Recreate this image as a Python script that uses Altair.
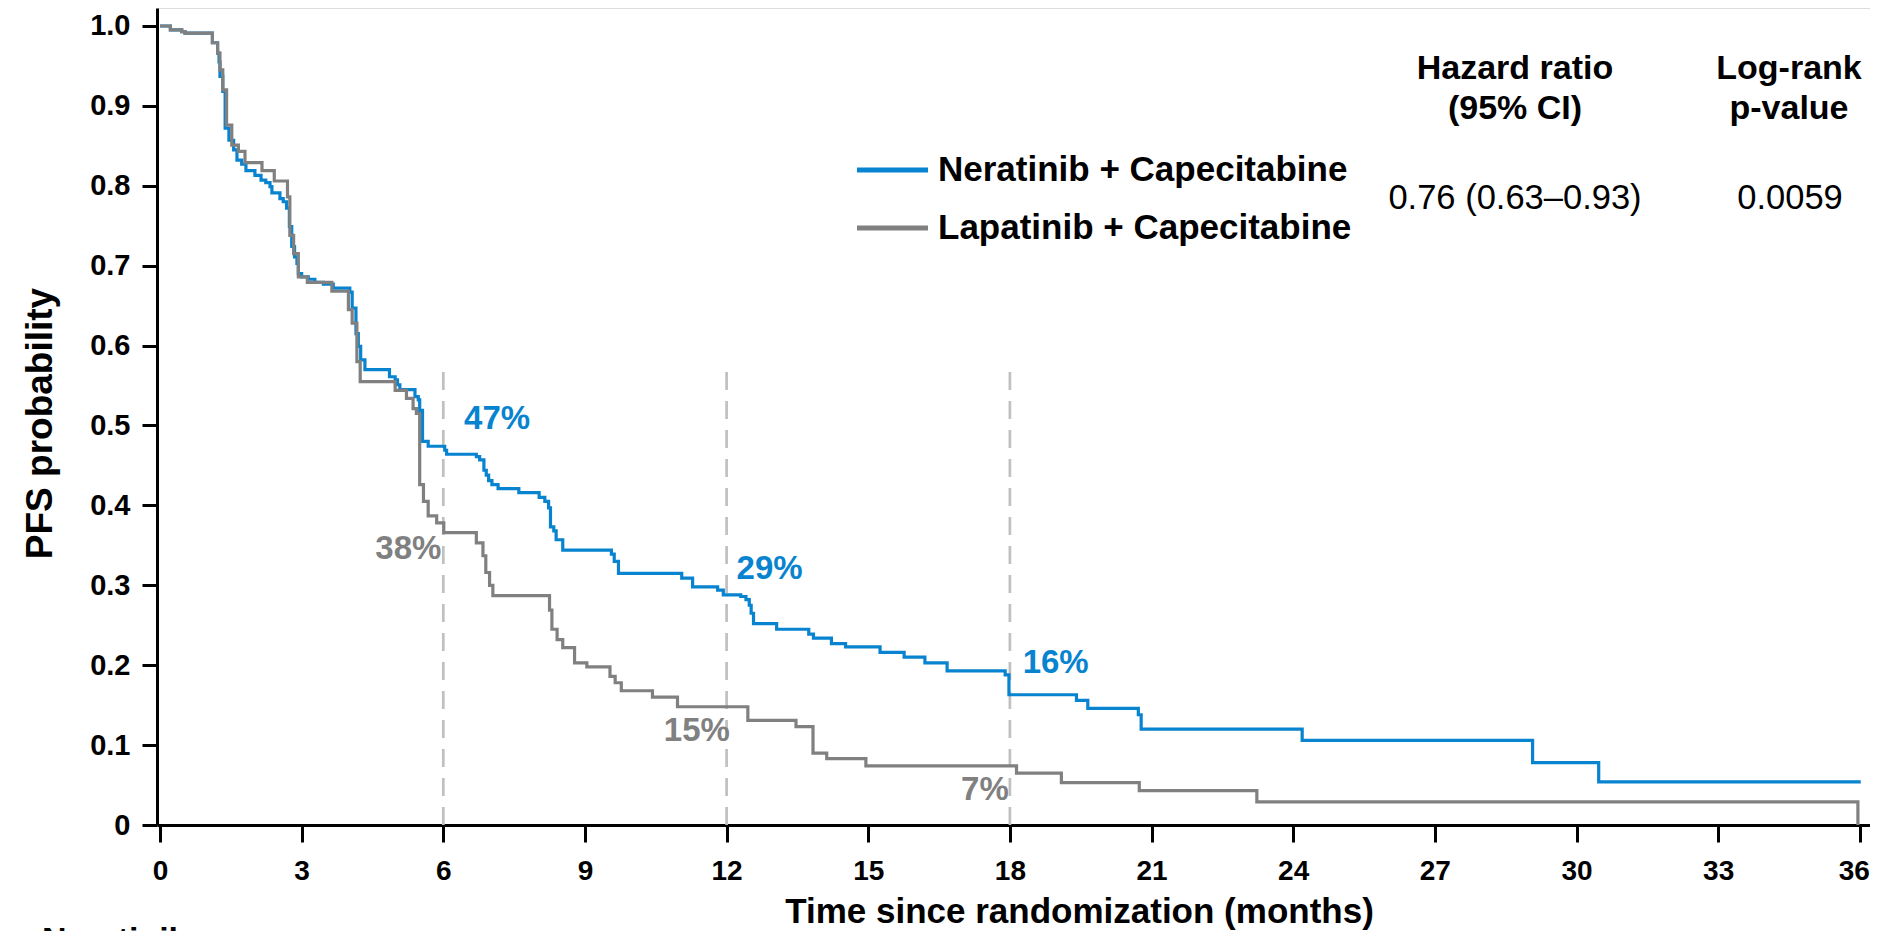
import altair as alt
import pandas as pd

# ---------------- data ----------------
series_names = ["Neratinib + Capecitabine", "Lapatinib + Capecitabine"]
series_colors = ["#0883CF", "#808080"]

nera_t = [0, 0.22, 0.46, 0.53, 1.11, 1.22, 1.25, 1.27, 1.33, 1.38, 1.46, 1.56, 1.63, 1.73, 1.82,
          2.01, 2.14, 2.24, 2.33, 2.37, 2.54, 2.61, 2.68, 2.74, 2.79, 2.85, 2.90, 2.93, 3.00, 3.14,
          3.28, 3.46, 3.67, 4.02, 4.07, 4.15, 4.20, 4.25, 4.34, 4.86, 4.98, 5.03, 5.08, 5.40, 5.47,
          5.50, 5.56, 5.68, 6.03, 6.07, 6.70, 6.77, 6.86, 6.91, 6.96, 7.03, 7.16, 7.60, 8.03, 8.15,
          8.23, 8.27, 8.34, 8.39, 8.53, 9.56, 9.62, 9.71, 11.05, 11.28, 11.81, 11.93, 12.30, 12.41,
          12.48, 12.52, 12.57, 13.06, 13.74, 13.84, 14.22, 14.52, 15.25, 15.76, 16.20, 16.67, 17.90,
          17.98, 19.41, 19.65, 20.72, 20.78, 24.19, 29.07, 30.47, 36.02]
nera_s = [1.0, 0.995, 0.993, 0.991, 0.979, 0.966, 0.955, 0.937, 0.918, 0.872, 0.857, 0.845, 0.832,
          0.827, 0.819, 0.813, 0.807, 0.804, 0.799, 0.791, 0.784, 0.780, 0.772, 0.749, 0.724, 0.711,
          0.703, 0.690, 0.686, 0.683, 0.679, 0.677, 0.672, 0.667, 0.647, 0.615, 0.599, 0.582, 0.570,
          0.561, 0.557, 0.551, 0.545, 0.536, 0.532, 0.519, 0.480, 0.474, 0.469, 0.464, 0.461, 0.457,
          0.444, 0.438, 0.431, 0.426, 0.421, 0.416, 0.410, 0.405, 0.397, 0.373, 0.368, 0.357, 0.344,
          0.339, 0.330, 0.315, 0.309, 0.298, 0.294, 0.288, 0.286, 0.282, 0.275, 0.265, 0.252, 0.245,
          0.239, 0.234, 0.227, 0.223, 0.216, 0.210, 0.203, 0.193, 0.188, 0.163, 0.156, 0.146, 0.138,
          0.120, 0.106, 0.078, 0.054, 0.054]

lapa_t = [0, 0.22, 0.46, 0.53, 1.11, 1.22, 1.27, 1.33, 1.41, 1.52, 1.66, 1.80, 2.16, 2.42, 2.70,
          2.75, 2.83, 2.93, 3.12, 3.64, 3.99, 4.07, 4.17, 4.24, 4.98, 5.22, 5.36, 5.43, 5.50, 5.58,
          5.68, 5.86, 6.01, 6.70, 6.84, 6.90, 6.98, 7.05, 8.25, 8.30, 8.41, 8.53, 8.78, 9.04, 9.53,
          9.64, 9.77, 10.43, 10.96, 12.45, 13.47, 13.83, 14.12, 14.95, 18.14, 19.09, 20.74, 23.23,
          35.96, 35.96]
lapa_s = [1.0, 0.995, 0.993, 0.991, 0.979, 0.966, 0.945, 0.920, 0.876, 0.851, 0.843, 0.829, 0.819,
          0.806, 0.786, 0.738, 0.715, 0.686, 0.679, 0.668, 0.645, 0.628, 0.580, 0.555, 0.544, 0.534,
          0.521, 0.515, 0.426, 0.405, 0.387, 0.378, 0.366, 0.353, 0.337, 0.316, 0.300, 0.287, 0.269,
          0.245, 0.232, 0.222, 0.203, 0.198, 0.186, 0.178, 0.168, 0.160, 0.148, 0.131, 0.123, 0.090,
          0.083, 0.074, 0.065, 0.053, 0.043, 0.029, 0.029, 0.0]

milestones = [6, 12, 18]
pct_labels = ["47%", "38%", "29%", "15%", "16%", "7%"]
pct_series = [0, 1, 0, 1, 0, 1]

x_ticks = list(range(0, 37, 3))
y_ticks = [0, 0.1, 0.2, 0.3, 0.4, 0.5, 0.6, 0.7, 0.8, 0.9, 1.0]

hr_header = ["Hazard ratio", "(95% CI)"]
p_header = ["Log-rank", "p-value"]
hr_value = "0.76 (0.63–0.93)"
p_value = "0.0059"
risk_label = "Neratinib"

# ---------------- layout / style ----------------
FONT = "Liberation Sans"
W, H = 1713, 817
X_DOMAIN = [-0.0635, 36.216]
Y_DOMAIN = [0, 1.0225]
MILESTONE_TOP = 0.572
# label anchor positions in data units (t, S)
pct_pos = [(7.14, 0.508), (5.26, 0.345), (12.91, 0.320), (11.37, 0.118), (18.97, 0.203), (17.47, 0.044)]

rows = []
for name, ts, ss in [(series_names[0], nera_t, nera_s), (series_names[1], lapa_t, lapa_s)]:
    for i, (t, s) in enumerate(zip(ts, ss)):
        rows.append({"series": name, "t": t, "s": s, "idx": i})
km = pd.DataFrame(rows)

xscale = alt.Scale(domain=X_DOMAIN, nice=False, zero=False)
yscale = alt.Scale(domain=Y_DOMAIN, nice=False)
cscale = alt.Scale(domain=series_names, range=series_colors)

x_axis = alt.Axis(values=x_ticks, grid=False, labelFontSize=28, labelFontWeight="bold",
                  labelColor="black", labelPadding=15, labelFlush=False,
                  labelOffset={"condition": {"test": "datum.value == 36", "value": -6}, "value": 0},
                  domainColor="black", domainWidth=3, tickColor="black", tickWidth=3, tickSize=17,
                  title="Time since randomization (months)", titleFontSize=35, titleFontWeight="bold",
                  titleColor="black", titleX=922, titleY=97, titleBaseline="alphabetic",
                  titleAlign="center")
y_axis = alt.Axis(values=y_ticks, grid=False, labelFontSize=29, labelFontWeight="bold",
                  labelColor="black", labelPadding=12, labelFlush=False,
                  labelExpr="datum.value == 0 ? '0' : format(datum.value, '.1f')",
                  domainColor="black", domainWidth=3, tickColor="black", tickWidth=3, tickSize=15,
                  title="PFS probability", titleFontSize=37, titleFontWeight="bold",
                  titleColor="black", titleX=-117, titleY=415, titleAngle=270,
                  titleBaseline="middle", titleAlign="center")

# milestone dashed rules
ms = pd.DataFrame({"t": milestones, "y0": [0] * len(milestones), "y1": [MILESTONE_TOP] * len(milestones)})
rules = alt.Chart(ms).mark_rule(color="#C0C0C0", strokeWidth=2.7, strokeDash=[18, 11]).encode(
    x=alt.X("t:Q", scale=xscale, axis=x_axis),
    y=alt.Y("y0:Q", scale=yscale, axis=y_axis),
    y2="y1:Q",
)

lines = alt.Chart(km).mark_line(interpolate="step-after", strokeWidth=3.2).encode(
    x=alt.X("t:Q", scale=xscale, axis=x_axis),
    y=alt.Y("s:Q", scale=yscale, axis=y_axis),
    color=alt.Color("series:N", scale=cscale, legend=None),
    order=alt.Order("idx:Q"),
)

pct_df = pd.DataFrame({
    "label": pct_labels,
    "series": [series_names[i] for i in pct_series],
    "t": [p[0] for p in pct_pos],
    "s": [p[1] for p in pct_pos],
})
pcts = alt.Chart(pct_df).mark_text(font=FONT, fontSize=33, fontWeight="bold",
                                   align="center", baseline="middle").encode(
    x=alt.X("t:Q", scale=xscale),
    y=alt.Y("s:Q", scale=yscale),
    text="label:N",
    color=alt.Color("series:N", scale=cscale, legend=None),
)

one = pd.DataFrame({"d": [0]})


def txt(text, x, y, align="center", weight="bold", size=34, baseline="middle", color="black"):
    return alt.Chart(one).mark_text(text=text, font=FONT, fontSize=size, fontWeight=weight,
                                    align=align, baseline=baseline, color=color).encode(
        x=alt.value(x), y=alt.value(y))


def leg_line(color, y):
    return alt.Chart(one).mark_rule(color=color, strokeWidth=5).encode(
        x=alt.value(700), x2=alt.value(771), y=alt.value(y))


extras = [
    leg_line(series_colors[0], 162),
    leg_line(series_colors[1], 220),
    txt(series_names[0], 781, 162, align="left", size=35),
    txt(series_names[1], 781, 220, align="left", size=35),
    txt(hr_header[0], 1358, 61),
    txt(hr_header[1], 1358, 101),
    txt(p_header[0], 1632, 61),
    txt(p_header[1], 1632, 101),
    txt(hr_value, 1358, 191, weight="normal", size=34.5),
    txt(p_value, 1633, 191, weight="normal", size=34.5),
    txt(risk_label, -115, 916, align="left", baseline="top"),
]

chart = alt.layer(rules, lines, pcts, *extras).properties(
    width=W, height=H,
    padding={"left": 149, "top": 0, "right": 0, "bottom": 106},
    autosize=alt.AutoSizeParams(type="none"),
).configure_view(stroke=None).configure(font=FONT)

chart.save("out.html", embed_options={"renderer": "svg", "actions": False})
